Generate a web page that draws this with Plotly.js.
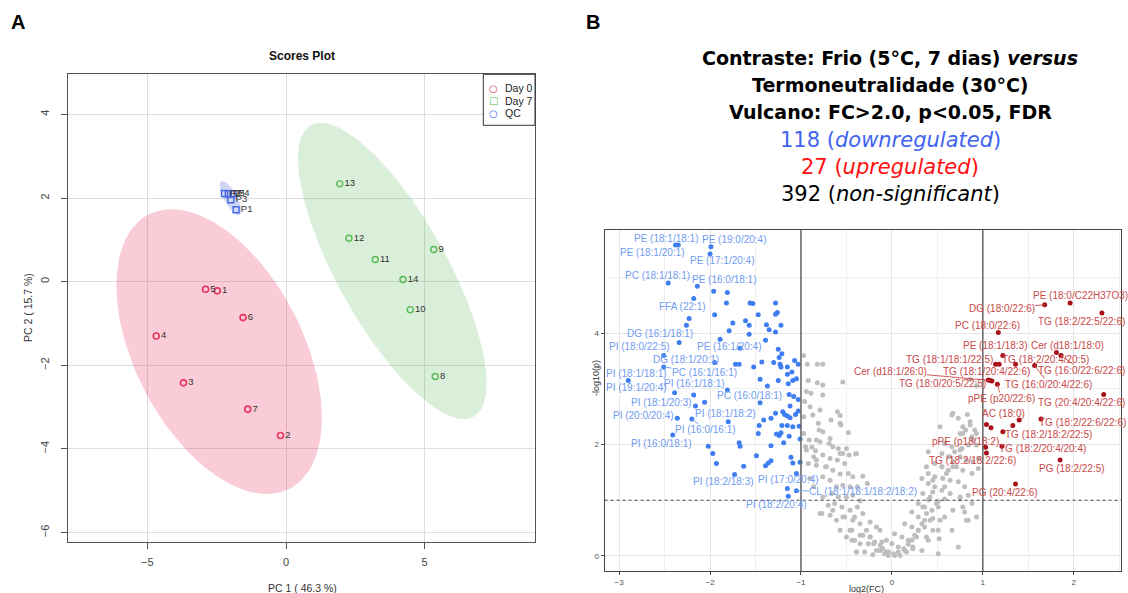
<!DOCTYPE html>
<html><head><meta charset="utf-8">
<script src="https://cdn.plot.ly/plotly-3.0.1.min.js"></script>
<style>body{margin:0;background:#fff}#c{width:1128px;height:593px}</style>
</head><body><div id="c"></div>
<script>
// ---------- Panel A: PCA scores ----------
const day0Labels = ['1','2','3','4','5','6','7'];
const day0PC1 = [-2.48, -0.20, -3.70, -4.68, -2.90, -1.55, -1.38];
const day0PC2 = [-0.22, -3.68, -2.42, -1.30, -0.18, -0.86, -3.05];
const day7Labels = ['8','9','10','11','12','13','14'];
const day7PC1 = [5.38, 5.33, 4.48, 3.22, 2.27, 1.94, 4.22];
const day7PC2 = [-2.27, 0.77, -0.67, 0.53, 1.04, 2.34, 0.05];
const qcLabels = ['P1','P2','P3','P4','P5'];
const qcPC1 = [-1.80, -2.22, -1.99, -1.91, -2.08];
const qcPC2 = [1.72, 2.11, 1.96, 2.10, 2.10];
const legendNames = ['Day 0', 'Day 7', 'QC'];
const pcaXTicks = [-5, 0, 5];
const pcaYTicks = [-6, -4, -2, 0, 2, 4];

// ---------- Panel B: volcano ----------
const downFC = [-2.38,-2.35,-1.99,-2.00,-2.46,-2.14,-2.18,-2.34,-2.51,-1.95,-2.51,-1.67,-2.90,-2.39,-1.81,-2.06,-2.36,-1.80,-2.20,-2.41,-1.45,-1.73,-1.15,-1.14,-1.05,
 -1.96,-1.81,-1.82,-1.56,-1.53,-1.28,-1.95,-1.47,-1.28,-1.26,-1.75,-1.61,-1.57,-1.38,-1.22,-1.79,-1.57,-1.35,-1.28,-1.39,-1.89,-1.25,-1.21,-1.24,-1.07,-1.03,-1.43,-1.30,-1.23,-1.15,-1.72,-1.68,-1.52,-1.22,-1.10,-1.05,-1.09,-1.15,-1.45,-1.37,-1.25,-1.14,-2.18,-1.13,-1.08,-2.16,-1.12,-1.03,-1.20,-1.28,-1.18,-1.15,-1.12,-1.06,-1.03,-1.33,-1.41,-1.46,-1.21,-1.15,-1.09,-1.02,-1.22,-1.13,-1.27,-1.24,-1.47,-1.01,-1.19,-2.02,-1.68,-1.67,-1.33,-1.97,-1.49,-1.33,-1.36,-1.39,-1.11,-1.09,-1.01,-1.93,-1.63,-1.05,-2.23,-2.26];
const downP = [5.58,5.58,5.55,5.42,4.90,4.84,4.62,3.83,3.60,3.47,3.39,3.73,3.15,2.93,2.98,2.76,2.47,2.41,2.46,2.17,2.75,1.46,1.21,1.07,1.17,
 4.75,4.73,4.54,4.54,4.53,4.54,4.33,4.33,4.34,4.37,4.18,4.22,4.14,4.15,4.14,4.04,3.98,4.06,4.02,3.87,3.89,3.71,3.63,3.56,3.51,3.44,3.48,3.47,3.44,3.39,3.44,3.44,3.39,3.39,3.30,3.18,3.15,3.26,3.17,3.05,3.15,3.09,2.89,2.90,2.86,2.69,2.69,2.81,2.59,2.56,2.54,2.51,2.48,2.54,2.60,2.47,2.44,2.34,2.34,2.34,2.32,2.33,2.21,2.15,2.19,2.16,2.20,2.10,2.03,1.97,2.03,1.97,1.98,1.84,1.80,1.71,1.67,1.62,1.77,1.67,1.68,1.66,1.61,1.48,4.26,4.14];
const downNames = ['PE (18:1/18:1)','PE (18:1/20:1)','PE (19:0/20:4)','PE (17:1/20:4)','PC (18:1/18:1)','PE (16:0/18:1)','FFA (22:1)','DG (16:1/18:1)','PI (18:0/22:5)','DG (18:1/20:1)','PC (16:1/16:1)','PE (16:1/20:4)','PI (18:1/18:1)','PI (19:1/20:4)','PI (16:1/18:1)','PI (18:1/20:3)','PI (20:0/20:4)','PI (18:1/18:2)','PI (16:0/16:1)','PI (16:0/18:1)','PC (16:0/18:1)','PI (18:2/18:3)','PI (17:0/20:4)','PI (18:2/20:4)','CL (18:1/18:1/18:2/18:2)'];

const upFC = [1.96,1.68,2.31,1.17,1.22,1.81,1.14,1.36,1.86,1.08,1.10,1.06,1.57,1.16,2.33,1.04,1.64,1.22,1.21,1.03,1.04,1.85,1.36,1.18,1.09,1.33,1.40];
const upP  = [4.54,4.51,4.36,4.01,3.60,3.65,3.44,3.44,3.60,3.15,3.14,3.16,3.42,3.08,2.90,2.36,2.46,2.23,1.97,1.95,1.85,1.72,1.29,3.44,2.30,2.34,2.44];
const upNames = ['PE (18:0/C22H37O3)','DG (18:0/22:6)','TG (18:2/22:5/22:6)','PC (18:0/22:6)','PE (18:1/18:3)','Cer (d18:1/18:0)','TG (18:1/18:1/22:5)','TG (18:2/20:4/20:5)','TG (16:0/22:6/22:6)','Cer (d18:1/26:0)','TG (18:1/20:4/22:6)','TG (18:0/20:5/22:5)','TG (16:0/20:4/22:6)','pPE (p20/22:6)','TG (20:4/20:4/22:6)','AC (18:0)','TG (18:2/22:6/22:6)','TG (18:2/18:2/22:5)','TG (18:2/20:4/20:4)','pPE (p18/18:2)','TG (18:2/18:2/22:6)','PG (18:2/22:5)','PG (20:4/22:6)'];

const nsFC = [-0.97,-0.93,-0.82,-0.76,-0.92,-0.82,-0.76,-0.54,-0.94,-0.89,-0.96,-0.90,-0.76,-0.87,-0.79,-0.60,-0.57,-0.67,-0.97,-0.56,-0.80,-0.76,-0.48,-0.91,-0.83,-0.79,-0.95,-0.88,-0.84,-0.69,-0.65,-0.59,-0.54,-0.47,-0.40,-0.86,-0.76,-0.68,-0.60,-0.52,-0.92,-0.83,-0.73,-0.65,-0.57,-0.48,-0.43,-0.32,-0.27,-0.76,-0.68,-0.61,-0.54,-0.46,-0.38,-0.66,-0.59,-0.50,-0.43,-0.35,-0.63,-0.55,-0.46,-0.38,-0.77,-0.68,-0.52,-0.41,-0.32,-0.24,-0.17,-0.44,-0.32,-0.24,-0.13,-0.35,-0.26,-0.20,-0.11,-0.06,-0.30,-0.13,-0.06,-0.44,-0.39,-0.21,-0.04,
 0.66,0.73,0.78,0.86,0.81,0.75,0.88,0.91,0.58,0.66,0.69,0.77,0.84,0.89,0.93,0.55,0.62,0.67,0.75,0.82,0.89,0.95,0.47,0.55,0.62,0.71,0.78,0.88,0.95,0.40,0.47,0.56,0.64,0.73,0.40,0.47,0.55,0.64,0.80,0.34,0.42,0.51,0.58,0.75,0.84,0.29,0.36,0.44,0.51,0.67,0.22,0.29,0.36,0.45,0.58,0.82,0.14,0.22,0.29,0.36,0.51,0.03,0.11,0.18,0.27,0.40,0.00,0.07,0.14,0.23,0.33,-0.04,0.03,0.51,0.66,0.73,0.80,0.88,
 0.67,0.83,0.93,0.86,0.93,
 -0.24,-0.19,-0.13,-0.10,-0.04,0.02,0.07,0.13,0.18,0.22,0.25,0.29,0.33,-0.17,-0.08,0.09,0.16,0.23,-0.35,-0.28,-0.43,-0.35,-0.54,-0.46,-0.41,-0.39,0.38,0.42,0.34,0.40,0.45,0.53,0.49,0.58,0.60,0.67,0.75,0.78,0.84,0.93,0.38,0.45,0.52,-0.50,-0.57,-0.61,-0.65,-0.70,-0.76,-0.79,-0.86,-0.90,-0.83,-0.72,-0.57,-0.50,-0.39,-0.94,-0.97,-0.81,-0.57,-0.68,0.55,0.64,0.75,0.78,0.86,0.58,0.45,0.33,0.38,0.40,0.53];
const nsP = [3.60,3.44,3.44,3.44,3.15,3.11,3.07,3.12,2.95,2.92,2.77,2.68,2.89,2.53,2.62,2.59,2.52,2.44,2.50,2.35,2.26,2.23,2.21,2.08,2.08,2.05,1.96,1.95,1.89,2.02,1.96,1.93,1.84,1.81,1.83,1.78,1.81,1.75,1.72,1.66,1.66,1.63,1.60,1.54,1.47,1.48,1.42,1.43,1.30,1.42,1.36,1.24,1.27,1.24,1.24,1.12,1.06,1.06,1.09,0.99,0.94,0.88,0.82,0.88,0.76,0.73,0.70,0.70,0.76,0.61,0.52,0.46,0.37,0.34,0.46,0.22,0.22,0.22,0.25,0.28,0.07,0.10,0.07,0.28,0.07,0.02,0.01,
 2.53,2.47,2.32,2.41,2.26,2.20,2.14,2.26,2.02,1.96,1.87,1.93,1.99,2.08,1.99,1.84,1.78,1.69,1.78,1.72,1.69,1.75,1.66,1.60,1.54,1.60,1.54,1.48,1.57,1.48,1.42,1.39,1.36,1.33,1.30,1.24,1.18,1.12,1.24,1.12,1.06,0.98,1.02,1.06,1.09,0.94,0.88,0.82,0.88,0.82,0.79,0.70,0.64,0.67,0.70,0.64,0.58,0.52,0.46,0.52,0.46,0.40,0.34,0.28,0.34,0.28,0.22,0.16,0.10,0.13,0.10,0.07,0.01,0.04,0.46,0.16,0.79,0.94,
 2.56,2.54,2.20,3.17,3.06,
 0.34,0.25,0.19,0.13,0.07,0.04,0.07,0.13,0.21,0.28,0.37,0.46,0.58,0.10,0.04,0.01,0.07,0.16,0.37,0.46,0.64,0.58,0.70,0.46,0.28,0.07,0.76,0.64,0.88,1.01,1.15,0.64,0.94,1.24,1.48,1.60,1.02,0.88,0.64,0.70,0.34,0.46,0.31,0.34,0.46,0.64,0.82,0.91,1.06,0.76,1.24,1.39,1.72,1.60,1.84,1.93,1.84,1.90,2.20,2.38,2.38,2.11,1.60,1.78,1.90,2.20,2.35,2.02,1.36,1.39,1.60,1.87,2.32];
const volcXTicks = [-3, -2, -1, 0, 1, 2];
const volcYTicks = [0, 2, 4];

// ---------- label offsets (pixels, styling only) ----------
const downOff = [[-10,-7,0],[-26,7,0],[23,-7,0],[12,7,0],[-11,-7,0],[27,-7,0],[-11,8,0],[-19,-9,0],[-24,-9,0],[-29,-3,0],[41,5,1],[-11,-2,0],[8,-7,0],[-38,-5,0],[-33,-6,0],[-43,0,0],[-34,-3,0],[-3,-8,0],[14,11,1],[-11,8,0],[-11,-7,0],[-11,7,0],[1,-9,0],[-12,8,0],[67,1,1]];
const upOff = [[10,-8,0],[-43,4,1],[-20,8,0],[-11,-7,0],[-8,-10,0],[11,-7,0],[-46,-5,0],[30,-5,0],[21,15,1],[-100,-9,1],[-5,-10,0],[-46,4,0],[14,19,1],[4,14,1],[-22,8,0],[17,-11,0],[42,4,0],[46,3,0],[41,2,0],[-20,-6,0],[-14,8,0],[12,8,0],[-11,8,0]];

function ellipse(xs, ys) {
  const n = xs.length;
  const mx = xs.reduce((a,b)=>a+b,0)/n, my = ys.reduce((a,b)=>a+b,0)/n;
  let sxx=0, syy=0, sxy=0;
  for (let i=0;i<n;i++){const dx=xs[i]-mx, dy=ys[i]-my; sxx+=dx*dx; syy+=dy*dy; sxy+=dx*dy;}
  sxx/=(n-1); syy/=(n-1); sxy/=(n-1);
  const tr=sxx+syy, det=sxx*syy-sxy*sxy, d=Math.sqrt(tr*tr/4-det);
  const l1=tr/2+d, l2=Math.max(tr/2-d,1e-9);
  const th=0.5*Math.atan2(2*sxy, sxx-syy);
  const r=Math.sqrt(5.991464547);
  const ex=[], ey=[];
  for (let k=0;k<=120;k++){
    const t=2*Math.PI*k/120;
    const u=r*Math.sqrt(l1)*Math.cos(t), v=r*Math.sqrt(l2)*Math.sin(t);
    ex.push(mx+u*Math.cos(th)-v*Math.sin(th)); ey.push(my+u*Math.sin(th)+v*Math.cos(th));
  }
  return [ex, ey];
}

const RED='#E8335F', GREEN='#55BB55', BLUE='#4466E0';
const fam = 'Liberation Sans, Arial, sans-serif';
const traces = [];
[[day0PC1,day0PC2,'rgba(232,51,95,0.25)'],[day7PC1,day7PC2,'rgba(80,180,80,0.22)'],[qcPC1,qcPC2,'rgba(70,100,225,0.25)']].forEach(g=>{
  const e=ellipse(g[0],g[1]);
  traces.push({x:e[0],y:e[1],mode:'lines',fill:'toself',fillcolor:g[2],line:{width:0},hoverinfo:'skip',xaxis:'x',yaxis:'y'});
});
const ptFont = {size:9.5,color:'#333',family:fam};
traces.push({x:day0PC1,y:day0PC2,text:day0Labels,mode:'markers+text',textposition:'middle right',textfont:ptFont,marker:{symbol:'circle-open',size:6,color:RED,line:{width:1.6}},xaxis:'x',yaxis:'y'});
traces.push({x:day7PC1,y:day7PC2,text:day7Labels,mode:'markers+text',textposition:'middle right',textfont:ptFont,marker:{symbol:'circle-open',size:6,color:GREEN,line:{width:1.4}},xaxis:'x',yaxis:'y'});
traces.push({x:qcPC1,y:qcPC2,text:qcLabels,mode:'markers+text',textposition:'middle right',textfont:ptFont,marker:{symbol:'square-open',size:6,color:BLUE,line:{width:1.4}},xaxis:'x',yaxis:'y'});

// volcano
traces.push({x:nsFC,y:nsP,mode:'markers',marker:{size:5,color:'#BEBEBE'},xaxis:'x2',yaxis:'y2'});
traces.push({x:downFC,y:downP,mode:'markers',marker:{size:5,color:'#3F7EF0'},xaxis:'x2',yaxis:'y2'});
traces.push({x:upFC,y:upP,mode:'markers',marker:{size:5,color:'#A8101A'},xaxis:'x2',yaxis:'y2'});

const ann = [];
function lab(names, xs, ys, offs, color){
  names.forEach((nm,i)=>{
    const o=offs[i];
    ann.push({xref:'x2',yref:'y2',x:xs[i],y:ys[i],ax:o[0],ay:o[1],text:nm,showarrow:true,arrowhead:0,arrowwidth:0.9,
      arrowcolor:o[2]?color:'rgba(0,0,0,0)',standoff:0,startstandoff:0,font:{size:10,color:color,family:fam},borderpad:0});
  });
}
lab(downNames, downFC, downP, downOff, '#6F9CF2');
lab(upNames, upFC, upP, upOff, '#C94848');

function pt(text,px,py,size,opts){ return Object.assign({xref:'paper',yref:'paper',x:px/1128,y:1-py/593,xanchor:'center',yanchor:'middle',showarrow:false,text:text,font:{size:size,family:fam,color:'#000'}},opts||{}); }
ann.push(pt('<b>A</b>',18,22,20));
ann.push(pt('<b>B</b>',593,22,20));
ann.push(pt('<b>Scores Plot</b>',302,56,12,{font:{size:12,family:fam,color:'#111'}}));
ann.push(pt('PC 1 ( 46.3 %)',302,588,10.5,{font:{size:10.5,family:fam,color:'#333'}}));
ann.push(pt('PC 2 ( 15.7 %)',28,308,10.5,{textangle:-90,font:{size:10.5,family:fam,color:'#333'}}));
ann.push(pt('log2(FC)',866,589,9,{font:{size:9,family:fam,color:'#333'}}));
ann.push(pt('-log10(p)',596,378,9,{textangle:-90,font:{size:9,family:fam,color:'#333'}}));
// legend of panel A (drawn by hand to match the compact R legend)
const legSyms = [['○',RED],['□',GREEN],['○',BLUE]];
const legY = [88, 100.5, 113];
legendNames.forEach((nm,i)=>{
  ann.push(pt(legSyms[i][0],493.5,legY[i],10,{font:{size:10,family:'DejaVu Sans, sans-serif',color:legSyms[i][1]}}));
  ann.push(pt(nm,503,legY[i],10.5,{xanchor:'left',font:{size:10.5,family:fam,color:'#222'}}));
});
const tf='DejaVu Sans, sans-serif';
ann.push(pt('<b>Contraste: Frio (5°C, 7 dias) <i>versus</i></b>',890,57.7,19,{font:{size:19,family:tf,color:'#000'}}));
ann.push(pt('<b>Termoneutralidade (30°C)</b>',890,85,19,{font:{size:19,family:tf,color:'#000'}}));
ann.push(pt('<b>Vulcano: FC>2.0, p<0.05, FDR</b>',890,112.3,19,{font:{size:19,family:tf,color:'#000'}}));
ann.push(pt('118 (<i>downregulated</i>)',890,140,21,{font:{size:21,family:tf,color:'#4064F0'}}));
ann.push(pt('27 (<i>upregulated</i>)',890,167.3,21,{font:{size:21,family:tf,color:'#FF1010'}}));
ann.push(pt('392 (<i>non-significant</i>)',890,194.3,21,{font:{size:21,family:tf,color:'#000'}}));

const px2x = v=>v/1128, py2y = v=>1-v/593;
const shapes = [
  {type:'line',xref:'x2',yref:'paper',x0:-1,x1:-1,y0:0.0371,y1:0.6121,line:{color:'#666',width:1.5}},
  {type:'line',xref:'x2',yref:'paper',x0:1,x1:1,y0:0.0371,y1:0.6121,line:{color:'#666',width:1.5}},
  {type:'line',xref:'paper',yref:'y2',x0:0.536,x1:0.9938,y0:1,y1:1,line:{color:'#444',width:1,dash:'dot'}},
  {type:'rect',xref:'paper',yref:'paper',x0:px2x(483.3),x1:px2x(535),y0:py2y(125.3),y1:py2y(74.3),fillcolor:'#fff',line:{color:'#333',width:1}}
];

const layout = {
  width:1128,height:593,margin:{l:0,r:0,t:0,b:0},paper_bgcolor:'#fff',plot_bgcolor:'#fff',
  font:{family:fam}, showlegend:false,
  xaxis:{domain:[0.0606,0.4743],range:[-7.85,8.98],tickvals:pcaXTicks,ticks:'outside',ticklen:6,tickcolor:'#555',ticklabelstandoff:4,
    showline:true,mirror:true,linecolor:'#555',linewidth:1.3,gridcolor:'#DDDDDD',zeroline:false,tickfont:{size:11,color:'#444',family:fam},anchor:'y'},
  yaxis:{domain:[0.0865,0.8747],range:[-6.22,4.96],tickvals:pcaYTicks,ticks:'outside',ticklen:6,tickcolor:'#555',tickangle:-90,ticklabelstandoff:8,
    showline:true,mirror:true,linecolor:'#555',linewidth:1.3,gridcolor:'#DDDDDD',zeroline:false,tickfont:{size:11,color:'#444',family:fam},anchor:'x'},
  xaxis2:{domain:[0.536,0.9938],range:[-3.16,2.52],tickvals:volcXTicks,ticks:'outside',ticklen:3,tickcolor:'#444',
    showline:true,mirror:true,linecolor:'#444',linewidth:1,gridcolor:'#E6E6E6',zeroline:false,tickfont:{size:8,color:'#4D4D4D',family:fam},
    minor:{dtick:0.5,tick0:0,showgrid:true,gridcolor:'#F0F0F0',ticks:''},anchor:'y2'},
  yaxis2:{domain:[0.0371,0.6121],range:[-0.27,5.85],tickvals:volcYTicks,ticks:'outside',ticklen:3,tickcolor:'#444',
    showline:true,mirror:true,linecolor:'#444',linewidth:1,gridcolor:'#E6E6E6',zeroline:false,tickfont:{size:8,color:'#4D4D4D',family:fam},
    minor:{dtick:1,tick0:0,showgrid:true,gridcolor:'#F0F0F0',ticks:''},anchor:'x2'},
  annotations:ann, shapes:shapes
};
Plotly.newPlot('c', traces, layout, {displayModeBar:false, staticPlot:true});
</script></body></html>
